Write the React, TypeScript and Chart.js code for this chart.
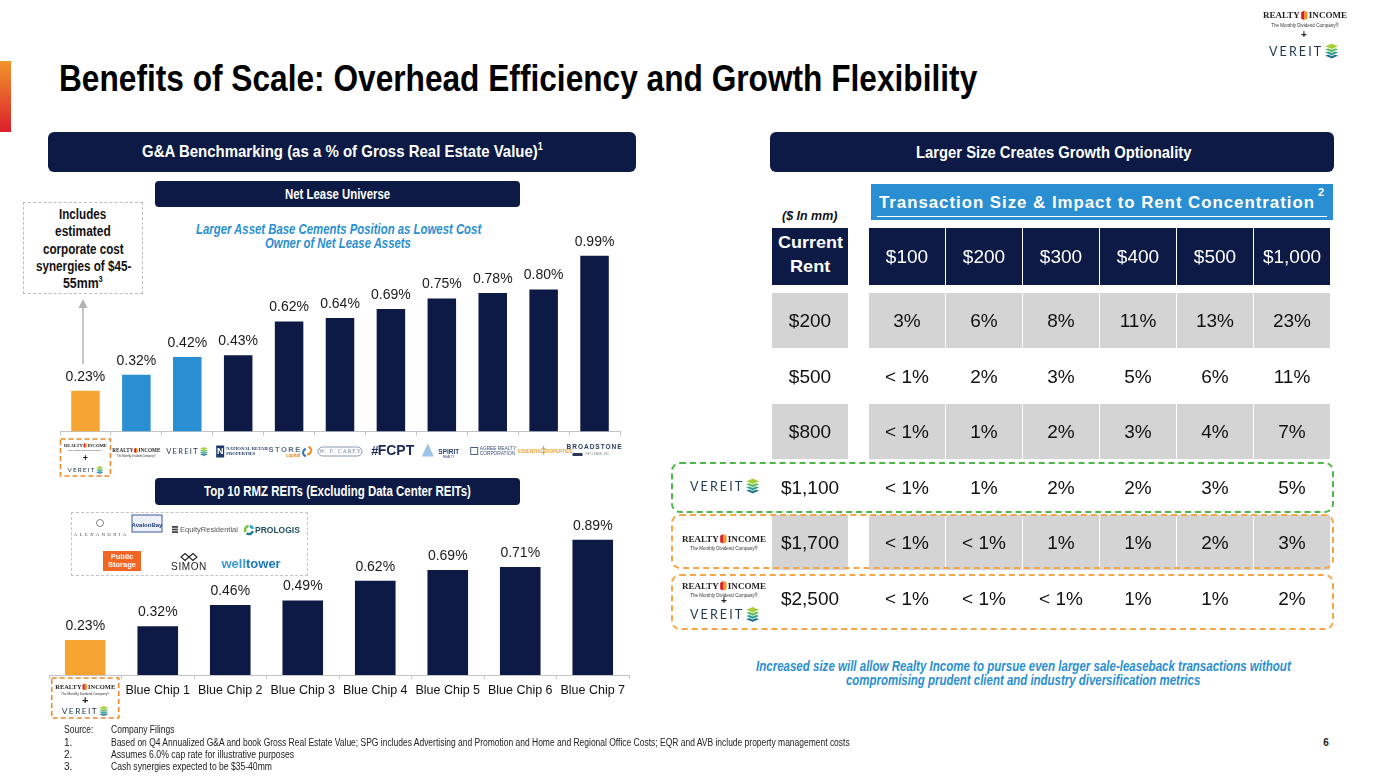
import React, { useEffect, useLayoutEffect, useRef } from 'react';
import { Chart, registerables } from 'chart.js';
Chart.register(...registerables);

const SANS = '"Liberation Sans", Arial, sans-serif';
const NARROW = '"Liberation Sans Narrow", "Liberation Sans", Arial, sans-serif';
const SERIF = '"Liberation Serif", serif';
const NAVY = '#0c1a45';
const BLUE = '#2a8fd2';
const ORANGE = '#f7a532';
const GRAY = '#d4d4d4';

// ---------------- data ----------------
const netLeaseCompanies = ['Realty Income + VEREIT', 'Realty Income', 'VEREIT', 'National Retail Properties', 'STORE Capital', 'W. P. Carey', 'FCPT', 'Spirit Realty', 'Agree Realty', 'Essential Properties', 'Broadstone Net Lease'];
const netLeaseGA = [0.23, 0.32, 0.42, 0.43, 0.62, 0.64, 0.69, 0.75, 0.78, 0.8, 0.99];
const rmzCompanies = ['Realty Income + VEREIT', 'Blue Chip 1', 'Blue Chip 2', 'Blue Chip 3', 'Blue Chip 4', 'Blue Chip 5', 'Blue Chip 6', 'Blue Chip 7'];
const rmzGA = [0.23, 0.32, 0.46, 0.49, 0.62, 0.69, 0.71, 0.89];
const transactionSizes = ['$100', '$200', '$300', '$400', '$500', '$1,000'];
const currentRents = ['$200', '$500', '$800', '$1,100', '$1,700', '$2,500'];
const rentConcentration = [
  ['3%', '6%', '8%', '11%', '13%', '23%'],
  ['< 1%', '2%', '3%', '5%', '6%', '11%'],
  ['< 1%', '1%', '2%', '3%', '4%', '7%'],
  ['< 1%', '1%', '2%', '2%', '3%', '5%'],
  ['< 1%', '< 1%', '1%', '1%', '2%', '3%'],
  ['< 1%', '< 1%', '< 1%', '1%', '1%', '2%'],
];

const netLeaseColors = [ORANGE, BLUE, BLUE, NAVY, NAVY, NAVY, NAVY, NAVY, NAVY, NAVY, NAVY];
const rmzColors = [ORANGE, NAVY, NAVY, NAVY, NAVY, NAVY, NAVY, NAVY];

type Ctx = CanvasRenderingContext2D;

function txt(ctx: Ctx, s: string, x: number, y: number, font: string, color: string, align: CanvasTextAlign = 'center', ls = 0) {
  ctx.save();
  ctx.font = font;
  ctx.fillStyle = color;
  ctx.textAlign = align;
  ctx.textBaseline = 'middle';
  (ctx as any).letterSpacing = ls + 'px';
  ctx.fillText(s, x, y);
  ctx.restore();
}

function drawRI(ctx: Ctx, cx: number, cy: number, w: number, tagline = true) {
  ctx.save();
  ctx.font = `bold 10px ${SERIF}`;
  const a = ctx.measureText('REALTY').width;
  const b = ctx.measureText('INCOME').width;
  const iw = 7, g = 1.5;
  const nat = a + b + iw + 2 * g;
  const k = w / nat;
  ctx.translate(cx, cy);
  ctx.scale(k, k);
  let x = -nat / 2;
  ctx.fillStyle = '#231f20';
  ctx.textBaseline = 'middle';
  ctx.textAlign = 'left';
  ctx.fillText('REALTY', x, 0.5);
  x += a + g;
  ctx.fillStyle = '#d71f27';
  ctx.beginPath(); ctx.moveTo(x, -3.5); ctx.lineTo(x + 3.5, -5.5); ctx.lineTo(x + 3.5, 5); ctx.lineTo(x, 3.5); ctx.closePath(); ctx.fill();
  ctx.fillStyle = '#f7941d';
  ctx.beginPath(); ctx.moveTo(x + 3.5, -5.5); ctx.lineTo(x + 7, -3.5); ctx.lineTo(x + 7, 3.5); ctx.lineTo(x + 3.5, 5); ctx.closePath(); ctx.fill();
  x += iw + g;
  ctx.fillStyle = '#231f20';
  ctx.fillText('INCOME', x, 0.5);
  if (tagline) {
    ctx.font = `5px ${SANS}`;
    ctx.textAlign = 'center';
    ctx.fillStyle = '#333';
    ctx.fillText('The Monthly Dividend Company®', 0, 11);
  }
  ctx.restore();
}

function drawVereit(ctx: Ctx, cx: number, cy: number, w: number) {
  ctx.save();
  ctx.font = `400 12px Lato, ${SANS}`;
  (ctx as any).letterSpacing = '2px';
  const tw = ctx.measureText('VEREIT').width;
  const iw = 14, g = 1;
  const nat = tw + g + iw;
  const k = w / nat;
  ctx.translate(cx, cy);
  ctx.scale(k, k);
  const x0 = -nat / 2;
  ctx.fillStyle = '#1d3a4e';
  ctx.textAlign = 'left';
  ctx.textBaseline = 'middle';
  ctx.fillText('VEREIT', x0, 0.5);
  (ctx as any).letterSpacing = '0px';
  const ix = x0 + tw + g;
  const cols = ['#1f6f8b', '#2a9d8f', '#5cb85c', '#a6ce39'];
  for (let j = 0; j < 4; j++) {
    const yy = 4.5 - j * 3;
    ctx.beginPath();
    ctx.moveTo(ix, yy); ctx.lineTo(ix + 7, yy - 3); ctx.lineTo(ix + 14, yy); ctx.lineTo(ix + 7, yy + 3); ctx.closePath();
    ctx.fillStyle = cols[j]; ctx.fill();
    ctx.strokeStyle = '#fff'; ctx.lineWidth = 0.8; ctx.stroke();
  }
  ctx.restore();
}

function dashedBox(ctx: Ctx, x: number, y: number, w: number, h: number, color: string) {
  ctx.save();
  ctx.strokeStyle = color;
  ctx.lineWidth = 1.6;
  ctx.setLineDash([5, 3]);
  ctx.strokeRect(x, y, w, h);
  ctx.restore();
}

function drawNetLeaseTick(ctx: Ctx, cx: number, b: number, i: number) {
  const y = b + 20;
  switch (i) {
    case 0:
      dashedBox(ctx, cx - 25, b + 7.5, 50, 37, '#e98c2f');
      drawRI(ctx, cx, b + 14, 43);
      txt(ctx, '+', cx, b + 27, `bold 9px ${SANS}`, '#222');
      drawVereit(ctx, cx, b + 38.5, 36);
      break;
    case 1:
      drawRI(ctx, cx, y - 1, 48);
      break;
    case 2:
      drawVereit(ctx, cx, y, 42);
      break;
    case 3:
      ctx.fillStyle = '#1b3a6b';
      ctx.fillRect(cx - 22, y - 6, 8, 12);
      txt(ctx, 'N', cx - 18, y, `bold 9px ${SANS}`, '#fff');
      txt(ctx, 'NATIONAL RETAIL', cx - 12, y - 2.5, `bold 4.6px ${SERIF}`, '#1b3a6b', 'left');
      txt(ctx, 'PROPERTIES', cx - 12, y + 2.2, `bold 4.6px ${SERIF}`, '#1b3a6b', 'left');
      break;
    case 4:
      txt(ctx, 'STORE', cx - 4, y - 2, `bold 7.5px ${SANS}`, '#5a6e8c', 'center', 1.5);
      txt(ctx, 'capital', cx + 4, y + 4.5, `bold 4.5px ${SANS}`, '#f08a24');
      ctx.save();
      ctx.lineWidth = 2;
      ctx.strokeStyle = '#f08a24';
      ctx.beginPath(); ctx.arc(cx + 18, y - 1, 4, -1.2, 1.6); ctx.stroke();
      ctx.strokeStyle = '#2a6fb5';
      ctx.beginPath(); ctx.arc(cx + 18, y + 1, 4, 1.9, 4.4); ctx.stroke();
      ctx.restore();
      break;
    case 5:
      ctx.save();
      ctx.strokeStyle = '#7a8aa8';
      ctx.lineWidth = 0.9;
      ctx.beginPath();
      (ctx as any).roundRect(cx - 22, y - 4.5, 44, 9, 4.5);
      ctx.stroke();
      ctx.restore();
      txt(ctx, 'W. P. CAREY', cx + 0.5, y + 0.3, `5.5px ${SERIF}`, '#6f7f9f', 'center', 1);
      break;
    case 6:
      txt(ctx, '#', cx - 16, y, `bold 13px ${SANS}`, '#1c2a55');
      txt(ctx, 'FCPT', cx + 5, y, `bold 14px ${SANS}`, '#1c2a55');
      break;
    case 7:
      ctx.save();
      ctx.fillStyle = '#9cc4e8';
      ctx.beginPath(); ctx.moveTo(cx - 14, y - 8); ctx.lineTo(cx - 8, y + 5); ctx.lineTo(cx - 20, y + 5); ctx.closePath(); ctx.fill();
      ctx.restore();
      txt(ctx, 'SPIRIT', cx + 7, y + 1, `bold 6.5px ${SANS}`, '#2b3f6b');
      txt(ctx, 'REALTY', cx + 7, y + 6, `3px ${SANS}`, '#2b3f6b');
      break;
    case 8:
      ctx.save();
      ctx.strokeStyle = '#3a4f7a';
      ctx.lineWidth = 0.9;
      ctx.strokeRect(cx - 22, y - 4, 7, 7);
      ctx.restore();
      txt(ctx, 'AGREE REALTY', cx - 13, y - 2.5, `4.8px ${SANS}`, '#3a4f7a', 'left');
      txt(ctx, 'CORPORATION', cx - 13, y + 2, `4.8px ${SANS}`, '#3a4f7a', 'left');
      break;
    case 9:
      txt(ctx, 'ESSENTIAL', cx - 13, y, `bold 4.5px ${SANS}`, '#e8a33a');
      txt(ctx, '‡', cx, y, `bold 10px ${SANS}`, '#e8a33a');
      txt(ctx, 'PROPERTIES', cx + 14, y, `bold 4.5px ${SANS}`, '#e8a33a');
      break;
    case 10:
      txt(ctx, 'BROADSTONE', cx, y - 4, `bold 6.5px ${SANS}`, '#2b3a5e', 'center', 1);
      ctx.fillStyle = '#2b3a5e';
      ctx.fillRect(cx - 22, y + 1.5, 10, 3);
      txt(ctx, 'NET LEASE, INC.', cx + 3, y + 3, `3px ${SANS}`, '#888');
      break;
  }
}

function drawRmzTick(ctx: Ctx, cx: number, b: number, i: number, label: string) {
  if (i === 0) {
    dashedBox(ctx, cx - 33.5, b + 3, 67, 40, '#e98c2f');
    drawRI(ctx, cx, b + 12, 60);
    txt(ctx, '+', cx, b + 26, `bold 11px ${SANS}`, '#222');
    drawVereit(ctx, cx, b + 36, 47);
  } else {
    txt(ctx, label, cx, b + 16, `12.5px ${SANS}`, '#111');
  }
}

type BarProps = {
  left: number; top: number; width: number; height: number;
  labels: string[]; values: number[]; colors: string[];
  pad: { left: number; right: number; top: number; bottom: number };
  max: number; labelGap: number;
  drawTick: (ctx: Ctx, cx: number, bottom: number, i: number, label: string) => void;
};

function BarChart(p: BarProps) {
  const ref = useRef<HTMLCanvasElement>(null);
  useEffect(() => {
    const valueLabels = {
      id: 'valueLabels',
      afterDatasetsDraw(chart: any) {
        const ctx = chart.ctx as Ctx;
        const meta = chart.getDatasetMeta(0);
        const data = chart.data.datasets[0].data as number[];
        meta.data.forEach((bar: any, i: number) => {
          txt(ctx, data[i].toFixed(2) + '%', bar.x, bar.y - p.labelGap, `14px ${SANS}`, '#1a1a1a');
        });
      },
    };
    const logoTicks = {
      id: 'logoTicks',
      afterDraw(chart: any) {
        const xs = chart.scales.x;
        const b = chart.chartArea.bottom;
        (chart.data.labels as string[]).forEach((lab, i) => p.drawTick(chart.ctx, xs.getPixelForValue(i), b, i, lab));
      },
    };
    const chart = new Chart(ref.current!, {
      type: 'bar',
      data: {
        labels: p.labels,
        datasets: [{ data: p.values, backgroundColor: p.colors, borderWidth: 0, barPercentage: 0.56, categoryPercentage: 1 }],
      },
      options: {
        animation: false,
        responsive: false,
        maintainAspectRatio: false,
        layout: { padding: p.pad },
        plugins: { legend: { display: false }, tooltip: { enabled: false } },
        scales: {
          x: {
            grid: { display: true, drawOnChartArea: false, drawTicks: true, tickLength: 4, color: '#c4c4c4', offset: true },
            border: { display: true, color: '#c4c4c4', width: 1 },
            ticks: { display: false },
          },
          y: { display: false, min: 0, max: p.max },
        },
      },
      plugins: [valueLabels, logoTicks],
    } as any);
    return () => chart.destroy();
  }, []);
  return <canvas ref={ref} width={p.width} height={p.height} style={{ position: 'absolute', left: p.left, top: p.top, width: p.width, height: p.height }} />;
}

type TP = {
  x: number; y: number; w?: number; size: number; weight?: number; italic?: boolean; color?: string;
  family?: string; align?: 'left' | 'center' | 'right'; fit?: boolean; ls?: number; underline?: boolean; children: any;
};

function T(p: TP) {
  const ref = useRef<HTMLSpanElement>(null);
  const align = p.align || 'left';
  const w = p.w ?? 0;
  useLayoutEffect(() => {
    if (!p.fit || !ref.current) return;
    const el = ref.current;
    el.style.transform = 'none';
    const nat = el.offsetWidth;
    if (nat > 0) el.style.transform = `scaleX(${w / nat})`;
  });
  const lh = Math.round(p.size * 1.2);
  const boxW = p.fit ? w : w || 800;
  let left = p.x;
  if (align === 'center') left = p.x - boxW / 2;
  else if (align === 'right') left = p.x - boxW;
  return (
    <div style={{
      position: 'absolute', left, top: p.y - lh / 2, width: boxW, height: lh, lineHeight: lh + 'px',
      textAlign: p.fit ? 'left' : align, whiteSpace: 'nowrap', fontSize: p.size, fontWeight: p.weight ?? 400,
      fontStyle: p.italic ? 'italic' : 'normal', color: p.color ?? '#000', fontFamily: p.family ?? SANS,
      letterSpacing: p.ls ? p.ls + 'px' : undefined, textDecoration: p.underline ? 'underline' : undefined,
    }}>
      <span ref={ref} style={{ display: 'inline-block', transformOrigin: 'left center' }}>{p.children}</span>
    </div>
  );
}

function Sup({ children }: { children: any }) {
  return <span style={{ fontSize: '0.6em', verticalAlign: 'super', lineHeight: 0 }}>{children}</span>;
}

function Box(p: { x: number; y: number; w: number; h: number; bg?: string; r?: number; border?: string }) {
  return <div style={{ position: 'absolute', left: p.x, top: p.y, width: p.w, height: p.h, background: p.bg, borderRadius: p.r ?? 0, border: p.border, boxSizing: 'border-box' }} />;
}

function drawDecor(ctx: Ctx) {
  // top-right logo
  drawRI(ctx, 1305, 15.5, 84);
  txt(ctx, '+', 1304, 35, `bold 10px ${SANS}`, '#222');
  drawVereit(ctx, 1304, 51, 70);

  // arrow
  ctx.save();
  ctx.strokeStyle = '#b3b3b3';
  ctx.lineWidth = 1.5;
  ctx.beginPath(); ctx.moveTo(83, 364); ctx.lineTo(83, 306); ctx.stroke();
  ctx.fillStyle = '#b3b3b3';
  ctx.beginPath(); ctx.moveTo(78.5, 308); ctx.lineTo(87.5, 308); ctx.lineTo(83, 299); ctx.closePath(); ctx.fill();
  ctx.restore();

  // REIT logos
  ctx.save();
  ctx.strokeStyle = '#666'; ctx.lineWidth = 0.8;
  ctx.beginPath(); ctx.arc(100, 523, 3.5, 0, Math.PI * 2); ctx.stroke();
  ctx.restore();
  txt(ctx, 'ALEXANDRIA', 101, 535, `5px ${SERIF}`, '#555', 'center', 2.2);
  ctx.fillStyle = '#eef2f8'; ctx.fillRect(132, 515, 30, 17);
  ctx.save(); ctx.strokeStyle = '#3a5a9a'; ctx.lineWidth = 1; ctx.strokeRect(132, 515, 30, 17); ctx.restore();
  txt(ctx, 'AvalonBay', 147, 525, `bold 6px ${NARROW}`, '#1f3b7a');
  ctx.fillStyle = '#444';
  for (let k = 0; k < 3; k++) ctx.fillRect(172, 526 + k * 2.6, 6, 1.8);
  txt(ctx, 'EquityResidential', 180, 530, `7.5px ${SANS}`, '#555', 'left');
  ctx.save();
  ctx.lineWidth = 2.5;
  ctx.strokeStyle = '#1f7a8c'; ctx.beginPath(); ctx.arc(249, 530, 4, 0.3, 2.2); ctx.stroke();
  ctx.strokeStyle = '#7cc242'; ctx.beginPath(); ctx.arc(249, 530, 4, 2.6, 4.6); ctx.stroke();
  ctx.strokeStyle = '#2a9fd6'; ctx.beginPath(); ctx.arc(249, 530, 4, 4.9, 6.0); ctx.stroke();
  ctx.restore();
  txt(ctx, 'PROLOGIS', 255, 530.5, `bold 8.5px ${SANS}`, '#1f4f5f', 'left');
  ctx.fillStyle = '#f26522'; ctx.fillRect(103, 551, 38, 20);
  txt(ctx, 'Public', 122, 556.5, `bold 7.5px ${SANS}`, '#fff');
  txt(ctx, 'Storage', 122, 565, `bold 7.5px ${SANS}`, '#fff');
  ctx.save();
  ctx.strokeStyle = '#222'; ctx.lineWidth = 1.1;
  ctx.beginPath(); ctx.moveTo(181, 557); ctx.lineTo(185, 553.5); ctx.lineTo(189, 557); ctx.lineTo(193, 560.5); ctx.lineTo(197, 557); ctx.lineTo(193, 553.5); ctx.lineTo(189, 557); ctx.lineTo(185, 560.5); ctx.closePath(); ctx.stroke();
  ctx.restore();
  txt(ctx, 'SIMON', 189, 567, `10px ${SANS}`, '#222', 'center', 0.6);
  txt(ctx, 'well', 246, 564, `bold 13px ${SANS}`, '#3a9bd5', 'right');
  txt(ctx, 'tower', 246, 564, `bold 13px ${SANS}`, '#1c78b8', 'left');

  // table row logos
  drawVereit(ctx, 725, 486, 70);
  drawRI(ctx, 724, 539, 84);
  drawRI(ctx, 724, 586, 84);
  txt(ctx, '+', 724, 601, `bold 10px ${SANS}`, '#222');
  drawVereit(ctx, 725, 614.5, 70);
}

export default function App() {
  const decorRef = useRef<HTMLCanvasElement>(null);
  useEffect(() => {
    const ctx = decorRef.current!.getContext('2d')!;
    ctx.clearRect(0, 0, 1387, 780);
    drawDecor(ctx);
  }, []);

  const rowTop = (r: number) => 293 + r * 55.5;
  const colX = (j: number) => 869 + j * 77;
  const synergyLines: [string | any, number, number][] = [
    ['Includes', 214, 47.5],
    ['estimated', 231.5, 55.4],
    ['corporate cost', 249, 80.4],
    ['synergies of $45-', 266, 95],
    [<>55mm<Sup>3</Sup></>, 283, 39.6],
  ];

  return (
    <div style={{ position: 'absolute', left: 0, top: 0, width: 1387, height: 780, background: '#fff', overflow: 'hidden', fontFamily: SANS }}>
      <div style={{ position: 'absolute', left: 0, top: 61, width: 11, height: 71, background: 'linear-gradient(#f0962a, #dc1e2b)' }} />
      <T x={59} y={78} size={36} weight={700} family={NARROW} fit w={918}>Benefits of Scale: Overhead Efficiency and Growth Flexibility</T>

      {/* left banners */}
      <Box x={48} y={132} w={588} h={40} bg={NAVY} r={6} />
      <T x={342} y={152} size={17} weight={700} family={NARROW} color="#fff" align="center" fit w={401}>G&amp;A Benchmarking (as a % of Gross Real Estate Value)<Sup>1</Sup></T>
      <Box x={155} y={181} w={365} h={26} bg={NAVY} r={4} />
      <T x={337.5} y={194.5} size={14} weight={700} family={NARROW} color="#fff" align="center" fit w={105}>Net Lease Universe</T>
      <Box x={155} y={478} w={365} h={27} bg={NAVY} r={4} />
      <T x={337.5} y={491.5} size={14} weight={700} family={NARROW} color="#fff" align="center" fit w={267}>Top 10 RMZ REITs (Excluding Data Center REITs)</T>

      {/* synergies note */}
      <Box x={23} y={202} w={120} h={92} border="1.5px dashed #bdbdbd" />
      {synergyLines.map(([s, y, w], i) => (
        <T key={i} x={83} y={y} size={14} weight={700} family={NARROW} color="#111" align="center" fit w={w}>{s}</T>
      ))}

      <T x={338} y={229} size={15} weight={700} italic family={NARROW} color={BLUE} align="center" fit w={285}>Larger Asset Base Cements Position as Lowest Cost</T>
      <T x={338} y={243} size={15} weight={700} italic family={NARROW} color={BLUE} align="center" fit w={146}>Owner of Net Lease Assets</T>

      <Box x={71} y={512} w={237} h={64} border="1.5px dashed #c4c4c4" />

      <BarChart left={40} top={230} width={600} height={260} labels={netLeaseCompanies} values={netLeaseGA} colors={netLeaseColors}
        pad={{ left: 20, right: 20, top: 24, bottom: 54.5 }} max={1.0} labelGap={14} drawTick={(ctx, cx, b, i) => drawNetLeaseTick(ctx, cx, b, i)} />
      <BarChart left={29} top={505} width={620} height={230} labels={rmzCompanies} values={rmzGA} colors={rmzColors}
        pad={{ left: 20, right: 20, top: 18, bottom: 56 }} max={1.0} labelGap={14} drawTick={drawRmzTick} />

      {/* right side */}
      <Box x={770} y={132} w={564} h={40} bg={NAVY} r={6} />
      <T x={1053} y={153} size={17} weight={700} family={NARROW} color="#fff" align="center" fit w={275}>Larger Size Creates Growth Optionality</T>

      <Box x={871} y={184} w={462} h={36} bg={BLUE} />
      <T x={1097} y={202.5} size={17} weight={700} color="#fff" align="center" fit w={436} ls={1}>Transaction Size &amp; Impact to Rent Concentration</T>
      <T x={1321} y={192} size={11} weight={700} color="#fff" align="center">2</T>
      <Box x={877} y={215.5} w={450} h={1.5} bg="#fff" />
      <T x={782} y={216} size={12} weight={700} italic underline family={NARROW} color="#111" fit w={55}>($ In mm)</T>

      <Box x={772} y={228} w={76} h={57} bg={NAVY} />
      <T x={810} y={243} size={17} weight={700} color="#fff" align="center" fit w={64.5}>Current</T>
      <T x={810} y={267} size={17} weight={700} color="#fff" align="center" fit w={40.6}>Rent</T>
      {transactionSizes.map((s, j) => (
        <React.Fragment key={'h' + j}>
          <Box x={colX(j)} y={228} w={76} h={57} bg={NAVY} />
          <T x={colX(j) + 38} y={256} size={19} color="#fff" align="center">{s}</T>
        </React.Fragment>
      ))}

      {currentRents.map((rent, r) => (
        <React.Fragment key={'r' + r}>
          {r % 2 === 0 && <Box x={772} y={rowTop(r)} w={76} h={55} bg={GRAY} />}
          {r % 2 === 0 && transactionSizes.map((_, j) => <Box key={'g' + j} x={colX(j)} y={rowTop(r)} w={76} h={55} bg={GRAY} />)}
          <T x={810} y={rowTop(r) + 27.7} size={19} color="#111" align="center">{rent}</T>
          {rentConcentration[r].map((v, j) => (
            <T key={'v' + j} x={colX(j) + 38} y={rowTop(r) + 27.7} size={19} color="#111" align="center">{v}</T>
          ))}
        </React.Fragment>
      ))}

      <Box x={671} y={462} w={663} h={51} r={9} border="2px dashed #4db748" />
      <Box x={671} y={514} w={663} h={55} r={9} border="2px dashed #f5a646" />
      <Box x={671} y={574} w={663} h={56} r={9} border="2px dashed #f5a646" />

      <T x={1023} y={666} size={14} weight={700} italic family={NARROW} color={BLUE} align="center" fit w={535}>Increased size will allow Realty Income to pursue even larger sale-leaseback transactions without</T>
      <T x={1023} y={680} size={14} weight={700} italic family={NARROW} color={BLUE} align="center" fit w={354}>compromising prudent client and industry diversification metrics</T>

      {/* footnotes */}
      <T x={64} y={730} size={10} family={NARROW} color="#222" fit w={29}>Source:</T>
      <T x={111} y={730} size={10} family={NARROW} color="#222" fit w={63}>Company Filings</T>
      <T x={64} y={742.5} size={10} family={NARROW} color="#222">1.</T>
      <T x={111} y={742.5} size={10} family={NARROW} color="#222" fit w={739}>Based on Q4 Annualized G&amp;A and book Gross Real Estate Value; SPG includes Advertising and Promotion and Home and Regional Office Costs; EQR and AVB include property management costs</T>
      <T x={64} y={755} size={10} family={NARROW} color="#222">2.</T>
      <T x={111} y={755} size={10} family={NARROW} color="#222" fit w={183}>Assumes 6.0% cap rate for illustrative purposes</T>
      <T x={64} y={767} size={10} family={NARROW} color="#222">3.</T>
      <T x={111} y={767} size={10} family={NARROW} color="#222" fit w={161}>Cash synergies expected to be $35-40mm</T>
      <T x={1326} y={743} size={10} weight={700} color="#222" align="center">6</T>

      <canvas ref={decorRef} width={1387} height={780} style={{ position: 'absolute', left: 0, top: 0, width: 1387, height: 780, pointerEvents: 'none' }} />
    </div>
  );
}
